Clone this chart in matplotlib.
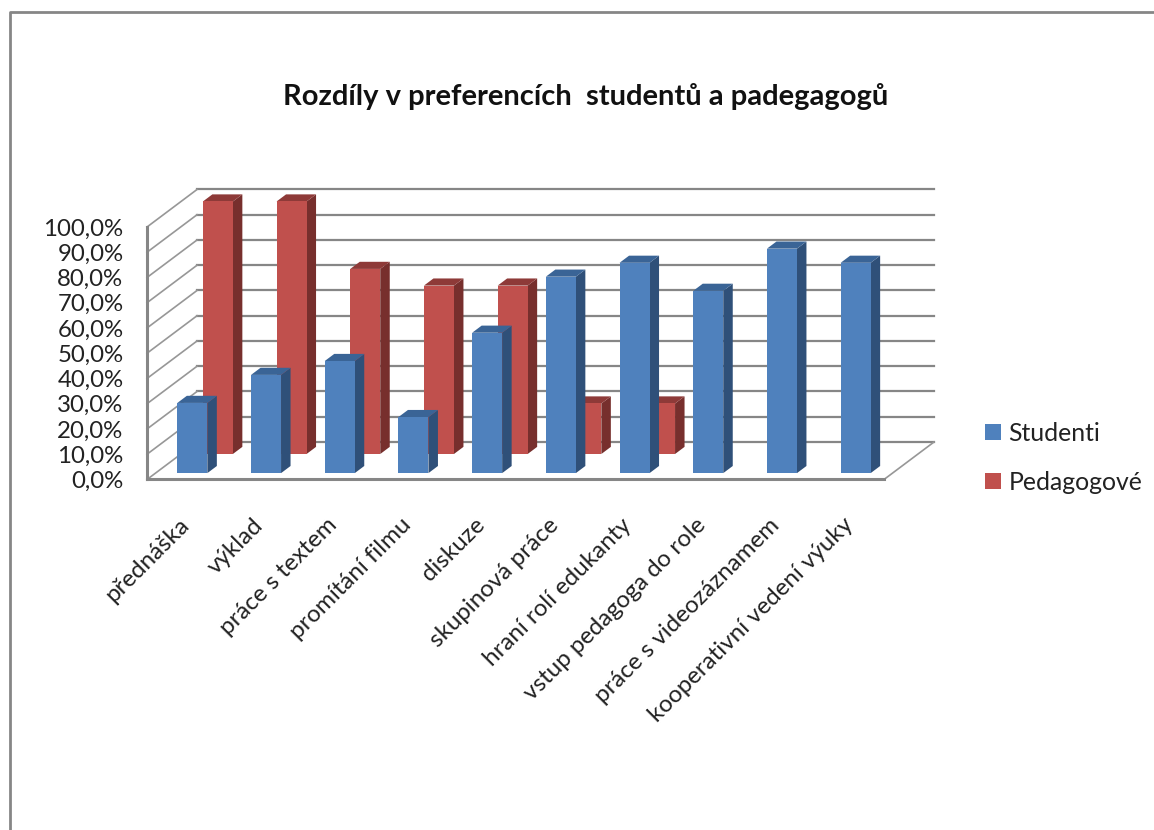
import numpy as np
import matplotlib
matplotlib.use('Agg')
import matplotlib.pyplot as plt
from matplotlib.lines import Line2D
from matplotlib.patches import Patch, Polygon
from matplotlib.transforms import ScaledTranslation

plt.rcParams['font.family'] = ['Lato', 'DejaVu Sans']

# data
categories = ['přednáška', 'výklad', 'práce s textem', 'promítání filmu', 'diskuze',
              'skupinová práce', 'hraní rolí edukanty', 'vstup pedagoga do role',
              'práce s videozáznamem', 'kooperativní vedení výuky']
studenti = [27.8, 38.9, 44.4, 22.2, 55.6, 77.8, 83.3, 72.2, 88.9, 83.3]
pedagogove = [100, 100, 73.3, 66.7, 66.7, 20, 20, 0, 0, 0]
y_ticks = [0, 10, 20, 30, 40, 50, 60, 70, 80, 90, 100]
y_labels = ['0,0%', '10,0%', '20,0%', '30,0%', '40,0%', '50,0%', '60,0%', '70,0%', '80,0%', '90,0%', '100,0%']

W, H = 1154, 830
GREY = '#868686'

# how far the back wall is moved from the front plane, in data units
DEPTH_X = 50 / 73.7
DEPTH_Y = 37.5 / 2.525
BAR_W = 0.407


def proj(x, y, d):
    return x + d * DEPTH_X, y + d * DEPTH_Y


def bar3d(ax, x, value, d0, d1, front, side, top):
    x0, x1 = x - BAR_W / 2, x + BAR_W / 2
    ax.add_patch(Polygon([proj(x1, 0, d0), proj(x1, 0, d1), proj(x1, value, d1), proj(x1, value, d0)],
                         fc=side, ec='none', clip_on=False, zorder=3))
    ax.add_patch(Polygon([proj(x0, value, d0), proj(x1, value, d0), proj(x1, value, d1), proj(x0, value, d1)],
                         fc=top, ec='none', clip_on=False, zorder=3))
    ax.add_patch(Polygon([proj(x0, 0, d0), proj(x1, 0, d0), proj(x1, value, d0), proj(x0, value, d0)],
                         fc=front, ec='none', clip_on=False, zorder=3))


fig = plt.figure(figsize=(W / 100, H / 100), dpi=100)
ax = fig.add_axes([147 / W, 1 - 479.5 / H, 737 / W, 252.5 / H])
ax.set_xlim(0, 10)
ax.set_ylim(0, 100)
ax.patch.set_alpha(0)

# walls and floor
for t in y_ticks:
    xs, ys = zip(proj(0, t, 1), proj(10, t, 1))
    ax.plot(xs, ys, color=GREY, lw=1.6, clip_on=False, zorder=1)
    xs, ys = zip(proj(0, t, 0), proj(0, t, 1))
    ax.plot(xs, ys, color='#979797', lw=1.2, clip_on=False, zorder=1)
xs, ys = zip(proj(10, 0, 0), proj(10, 0, 1))
ax.plot(xs, ys, color='#979797', lw=1.2, clip_on=False, zorder=1)

# bars, back row first
positions = np.arange(len(categories)) + 0.5
for x, v in zip(positions, pedagogove):
    if v > 0:
        bar3d(ax, x, v, 0.68, 0.87, '#c0504d', '#772f2d', '#8e3a38')
for x, v in zip(positions, studenti):
    bar3d(ax, x, v, 0.17, 0.36, '#4f81bd', '#2f5079', '#3a6496')

ax.set_xticks(positions, categories, rotation=45, ha='right', rotation_mode='anchor', fontsize=17.4)
ax.set_yticks(y_ticks, y_labels, fontsize=17.3)
ax.tick_params(axis='x', length=0, pad=25, colors='#222222')
ax.tick_params(axis='y', length=0, pad=17, colors='#222222')
shift = ScaledTranslation(-5 / 100, 0, fig.dpi_scale_trans)
for label in ax.get_xticklabels():
    label.set_transform(label.get_transform() + shift)
for s in ['top', 'right']:
    ax.spines[s].set_visible(False)
for s in ['left', 'bottom']:
    ax.spines[s].set_color(GREY)
    ax.spines[s].set_linewidth(2.2)
    ax.spines[s].set_zorder(2)

fig.text(586 / W, 1 - 96 / H, 'Rozdíly v preferencích  studentů a padegagogů', ha='center', va='center',
         fontsize=21, fontweight='bold', color='#111111')

handles = [Patch(fc='#4f81bd', ec='none', label='Studenti'),
           Patch(fc='#c0504d', ec='none', label='Pedagogové')]
fig.legend(handles=handles, loc='center left', bbox_to_anchor=(985 / W, 1 - 458 / H), frameon=False,
           fontsize=17.8, handlelength=0.65, handleheight=0.6, handletextpad=0.3, labelspacing=1.05,
           borderpad=0, borderaxespad=0, labelcolor='#222222')

# outer frame of the chart, only top and left are in the picture
fig.add_artist(Line2D([9.5 / W, 9.5 / W, 1], [0, 1 - 12 / H, 1 - 12 / H], color=GREY, lw=2))

fig.savefig('out.png', dpi=100)
